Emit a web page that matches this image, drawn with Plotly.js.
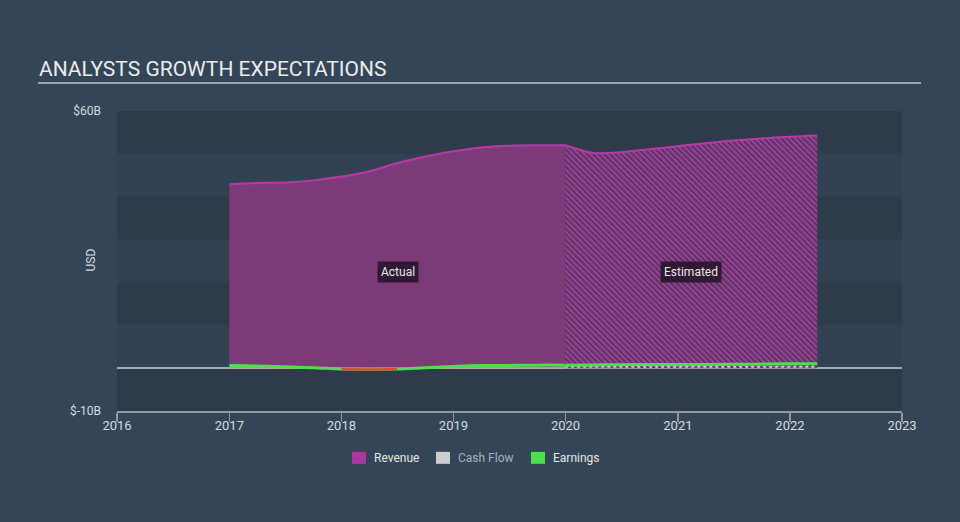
<!DOCTYPE html>
<html><head><meta charset="utf-8">
<script src="https://cdn.plot.ly/plotly-3.0.1.min.js"></script>
<style>html,body{margin:0;padding:0;background:#354558;}#chart{width:960px;height:522px;}</style>
</head><body><div id="chart"></div>
<script>
// Revenue (USD billions)
const revActualX = ['2017-01-01','2017-04-01','2017-07-01','2017-10-01','2018-01-01','2018-04-01','2018-07-01','2018-10-01','2019-01-01','2019-04-01','2019-07-01','2019-10-01','2019-12-31'];
const revActualY = [42.9,43.2,43.3,43.8,44.7,45.9,47.8,49.4,50.6,51.5,51.9,52.0,52.0];
const revEstX = ['2019-12-31','2020-03-31','2020-06-30','2020-12-31','2021-06-30','2021-12-31','2022-03-31'];
const revEstY = [52.0,50.2,50.4,51.8,53.1,54.0,54.3];
// Earnings (USD billions)
const earnActualX = revActualX;
const earnActualY = [0.6,0.5,0.3,0.1,-0.2,-0.3,-0.2,0.1,0.4,0.6,0.6,0.7,0.7];
const earnEstX = revEstX;
const earnEstY = [0.7,0.75,0.8,0.85,0.9,1.0,1.0];
// Cash flow (USD billions)
const cashActualY = [0.05,0.05,0.05,0.05,0.0,0.0,0.0,0.0,0.05,0.05,0.05,0.05,0.05];
const cashEstY = [0.3,0.3,0.3,0.3,0.3,0.3,0.3];
// Axis ticks
const xTicks = ['2016-01-01','2017-01-01','2018-01-01','2019-01-01','2020-01-01','2021-01-01','2022-01-01','2023-01-01'];
const xTickText = ['2016','2017','2018','2019','2020','2021','2022','2023'];
const yTicks = [60,-10];
const yTickText = ['$60B','$-10B'];
const bands = [[50,60],[30,40],[10,20],[-10,0]];

const magenta = '#b83aa8';
const traces = [
  {x: revActualX, y: revActualY, type:'scatter', mode:'lines', line:{color:magenta, width:2, shape:'spline', smoothing:0.8}, fill:'tozeroy', fillcolor:'#7d3a79', hoverinfo:'skip', showlegend:false},
  {x: revEstX, y: revEstY, type:'scatter', mode:'lines', line:{color:magenta, width:2, shape:'spline', smoothing:0.8}, fill:'tozeroy', fillcolor:'rgba(0,0,0,0)',
   fillpattern:{shape:'\\', fgcolor:'#a83c9e', bgcolor:'#4d385b', size:4, solidity:0.5}, hoverinfo:'skip', showlegend:false},
  {x: revActualX, y: cashActualY, type:'scatter', mode:'lines', line:{color:'#c9b49a', width:1.5, shape:'spline'}, hoverinfo:'skip', showlegend:false},
  {x: revEstX, y: cashEstY, type:'scatter', mode:'lines', line:{color:'#cccccc', width:2, dash:'dot'}, hoverinfo:'skip', showlegend:false},
  {x: earnActualX, y: earnActualY, type:'scatter', mode:'lines', line:{color:'#4fde4f', width:3, shape:'spline'}, hoverinfo:'skip', showlegend:false},
  {x: earnActualX, y: earnActualY.map(v => v < 0 ? v : null), type:'scatter', mode:'lines', line:{color:'#e8463c', width:2.5, shape:'spline'}, connectgaps:false, hoverinfo:'skip', showlegend:false},
  {x: earnEstX, y: earnEstY, type:'scatter', mode:'lines', line:{color:'#4fde4f', width:3, shape:'spline'}, hoverinfo:'skip', showlegend:false}
];

const shapes = bands.map(b => ({type:'rect', xref:'paper', yref:'y', x0:0, x1:1, y0:b[0], y1:b[1], fillcolor:'rgba(20,30,40,0.18)', line:{width:0}, layer:'below'}));
shapes.push({type:'line', xref:'paper', yref:'paper', x0:(38-117)/785, x1:(921-117)/785, y0:(411-82)/301, y1:(411-82)/301, line:{color:'#9aa3ad', width:2}});
// legend swatches
const legendItems = [
  {label:'Revenue', color:'#a9399e', textColor:'#e6e6e6', x:352},
  {label:'Cash Flow', color:'#cccccc', textColor:'#a9b0b8', x:436},
  {label:'Earnings', color:'#4fde4f', textColor:'#e6e6e6', x:531}
];
legendItems.forEach(it => {
  shapes.push({type:'rect', xref:'paper', yref:'paper', x0:(it.x-117)/785, x1:(it.x+14-117)/785, y0:(411-452)/301, y1:(411-464)/301, fillcolor:it.color, line:{width:0}});
});

const annotations = [
  {text:'ANALYSTS GROWTH EXPECTATIONS', xref:'paper', yref:'paper', x:(37-117)/785, y:(411-68)/301, xanchor:'left', yanchor:'middle', showarrow:false, font:{family:'Roboto, sans-serif', size:21, color:'#ececec'}},
  {text:'USD', xref:'paper', yref:'paper', x:(91-117)/785, y:(411-260)/301, xanchor:'center', yanchor:'middle', textangle:-90, showarrow:false, font:{family:'Roboto, sans-serif', size:12, color:'#d6dade'}},
  {text:'Actual', xref:'paper', yref:'y', x:(398-117)/785, y:22.5, xanchor:'center', showarrow:false, bgcolor:'rgba(35,20,40,0.85)', borderpad:3, font:{family:'Roboto, sans-serif', size:12, color:'#e8e8e8'}},
  {text:'Estimated', xref:'paper', yref:'y', x:(691-117)/785, y:22.5, xanchor:'center', showarrow:false, bgcolor:'rgba(35,20,40,0.85)', borderpad:3, font:{family:'Roboto, sans-serif', size:12, color:'#e8e8e8'}}
];
legendItems.forEach(it => {
  annotations.push({text:it.label, xref:'paper', yref:'paper', x:(it.x+20-117)/785, y:(411-458)/301, xanchor:'left', yanchor:'middle', showarrow:false, font:{family:'Roboto, sans-serif', size:12, color:it.textColor}});
});

const layout = {
  width:960, height:522,
  margin:{l:117, r:58, t:111, b:111, pad:0},
  paper_bgcolor:'#354558', plot_bgcolor:'#334252',
  font:{family:'Roboto, sans-serif', color:'#d0d5da', size:12},
  showlegend:false,
  xaxis:{type:'date', range:['2016-01-01','2023-01-01'], tickvals:xTicks, ticktext:xTickText, showgrid:false, zeroline:false,
    showline:true, linecolor:'#8e99a6', linewidth:1.5, ticks:'outside', ticklen:9, tickcolor:'#8e99a6', tickwidth:1.5,
    ticklabelstandoff:-7, tickfont:{size:13, color:'#d6dade'}, fixedrange:true},
  yaxis:{range:[-10,60], tickvals:yTicks, ticktext:yTickText, showgrid:false, zeroline:true, zerolinecolor:'#a4adb7', zerolinewidth:2,
    showline:false, ticks:'', ticklabelstandoff:15, tickfont:{size:12, color:'#d6dade'}, fixedrange:true},
  shapes:shapes, annotations:annotations
};
Plotly.newPlot('chart', traces, layout, {displayModeBar:false, staticPlot:true});
</script></body></html>
